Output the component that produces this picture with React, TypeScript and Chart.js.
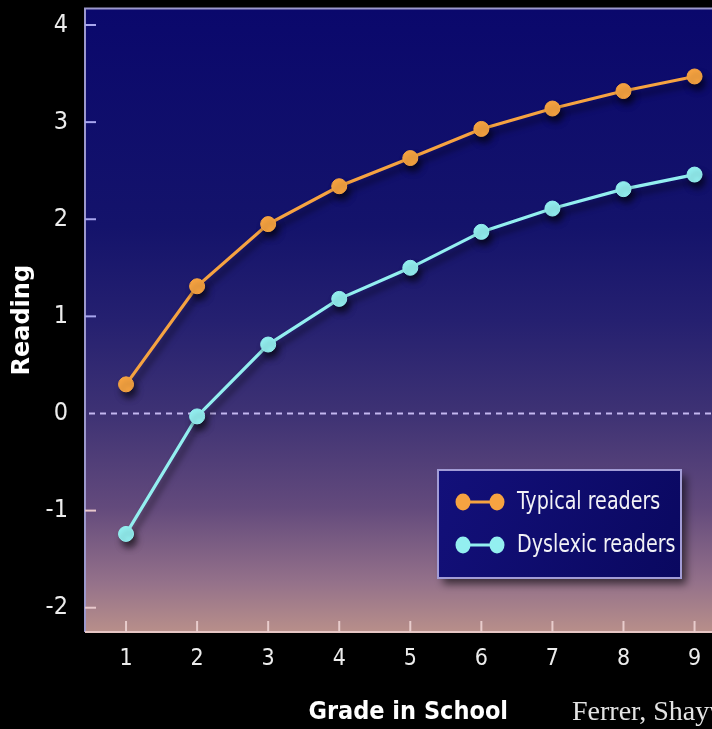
import React, { useEffect, useRef } from "react";
import { Chart, registerables } from "chart.js";

Chart.register(...registerables);

const grades = [1, 2, 3, 4, 5, 6, 7, 8, 9];
const typicalReaders = [0.3, 1.31, 1.95, 2.34, 2.63, 2.93, 3.14, 3.32, 3.47];
const dyslexicReaders = [-1.24, -0.03, 0.71, 1.18, 1.5, 1.87, 2.11, 2.31, 2.46];
const yTickValues = [-2, -1, 0, 1, 2, 3, 4];
const seriesLabels = ["Typical readers", "Dyslexic readers"];
const seriesColors = ["#f6a341", "#93eff0"];
const sourceNote = "Ferrer, Shaywitz, et al.";

const NARROW = '"Liberation Sans Narrow", "DejaVu Sans Condensed", sans-serif';

const decorPlugin = {
  id: "decor",
  beforeDraw(chart: any) {
    const { ctx, chartArea: a } = chart;
    ctx.save();
    const g = ctx.createLinearGradient(0, a.top, 0, a.bottom);
    g.addColorStop(0, "#0a086c");
    g.addColorStop(0.35, "#14136b");
    g.addColorStop(0.5, "#252070");
    g.addColorStop(0.65, "#3e3274");
    g.addColorStop(0.8, "#634a7c");
    g.addColorStop(0.92, "#94718a");
    g.addColorStop(1, "#b88f8a");
    ctx.fillStyle = g;
    ctx.fillRect(a.left, a.top, a.right - a.left, a.bottom - a.top);
    ctx.restore();
  },
  beforeDatasetsDraw(chart: any) {
    const { ctx, chartArea: a, scales } = chart;
    const x = scales.x;
    const y = scales.y;
    ctx.save();
    ctx.lineWidth = 2;
    ctx.strokeStyle = "#9c98cc";
    ctx.beginPath();
    ctx.moveTo(a.left, a.bottom);
    ctx.lineTo(a.left, a.top);
    ctx.lineTo(a.right, a.top);
    ctx.stroke();
    ctx.strokeStyle = "#e6c6c4";
    ctx.beginPath();
    ctx.moveTo(a.left, a.bottom);
    ctx.lineTo(a.right, a.bottom);
    ctx.stroke();
    for (const v of yTickValues) {
      if (v === 0) continue;
      const py = y.getPixelForValue(v);
      const t = (py - a.top) / (a.bottom - a.top);
      ctx.strokeStyle = t < 0.75 ? "#a8a6ee" : "#e8c8cc";
      ctx.beginPath();
      ctx.moveTo(a.left, py);
      ctx.lineTo(a.left + 11, py);
      ctx.stroke();
    }
    ctx.strokeStyle = "#e8cccc";
    for (const v of grades) {
      const px = x.getPixelForValue(v);
      ctx.beginPath();
      ctx.moveTo(px, a.bottom);
      ctx.lineTo(px, a.bottom - 11);
      ctx.stroke();
    }
    const zy = y.getPixelForValue(0);
    ctx.strokeStyle = "#c4b8f0";
    ctx.lineWidth = 2;
    ctx.setLineDash([6, 5]);
    ctx.beginPath();
    ctx.moveTo(a.left + 4, zy);
    ctx.lineTo(a.right, zy);
    ctx.stroke();
    ctx.restore();
    ctx.save();
    ctx.shadowColor = "rgba(0,0,0,0.55)";
    ctx.shadowBlur = 6;
    ctx.shadowOffsetX = 3;
    ctx.shadowOffsetY = 6;
  },
  afterDatasetsDraw(chart: any) {
    chart.ctx.restore();
  },
  afterDraw(chart: any) {
    const { ctx, chartArea: a } = chart;
    const bx = a.left + 353;
    const by = 470;
    const bw = 243;
    const bh = 108;
    ctx.save();
    ctx.shadowColor = "rgba(0,0,0,0.6)";
    ctx.shadowBlur = 8;
    ctx.shadowOffsetX = 5;
    ctx.shadowOffsetY = 6;
    const lg = ctx.createLinearGradient(bx, by, bx + bw, by + bh);
    lg.addColorStop(0, "#13107a");
    lg.addColorStop(1, "#0a0860");
    ctx.fillStyle = lg;
    ctx.fillRect(bx, by, bw, bh);
    ctx.restore();
    ctx.save();
    ctx.strokeStyle = "#a29cd6";
    ctx.lineWidth = 2;
    ctx.strokeRect(bx, by, bw, bh);
    chart.data.datasets.forEach((ds: any, i: number) => {
      const cy = by + 32 + i * 43;
      const x1 = bx + 25;
      const x2 = bx + 59;
      ctx.strokeStyle = ds.borderColor;
      ctx.fillStyle = ds.backgroundColor;
      ctx.lineWidth = 3;
      ctx.beginPath();
      ctx.moveTo(x1, cy);
      ctx.lineTo(x2, cy);
      ctx.stroke();
      for (const px of [x1, x2]) {
        ctx.beginPath();
        ctx.ellipse(px, cy, 7.5, 8.5, 0, 0, Math.PI * 2);
        ctx.fill();
      }
      ctx.save();
      ctx.translate(bx + 79, cy);
      ctx.scale(0.85, 1);
      ctx.fillStyle = "#f2f2f6";
      ctx.font = `25px ${NARROW}`;
      ctx.textAlign = "left";
      ctx.textBaseline = "middle";
      ctx.fillText(ds.label, 0, 0);
      ctx.restore();
    });
    ctx.fillStyle = "#e4e4e4";
    ctx.font = '28px "Liberation Serif", serif';
    ctx.textAlign = "left";
    ctx.textBaseline = "middle";
    ctx.fillText(sourceNote, 572, 713);
    ctx.restore();
  },
};

export default function App() {
  const ref = useRef<HTMLCanvasElement>(null);

  useEffect(() => {
    if (!ref.current) return;
    const mk = (vals: number[]) => grades.map((g, i) => ({ x: g, y: vals[i] }));
    const chart = new Chart(ref.current, {
      type: "line",
      data: {
        datasets: [typicalReaders, dyslexicReaders].map((vals, i) => ({
          label: seriesLabels[i],
          data: mk(vals),
          borderColor: seriesColors[i],
          backgroundColor: seriesColors[i],
          pointBackgroundColor: seriesColors[i],
          pointBorderColor: seriesColors[i],
          pointRadius: 7.5,
          pointBorderWidth: 1,
          borderWidth: 3.2,
          tension: 0,
        })),
      },
      plugins: [decorPlugin],
      options: {
        responsive: false,
        animation: false,
        devicePixelRatio: 1,
        layout: { padding: { top: 7, right: 0, left: 0, bottom: 0 } },
        plugins: { legend: { display: false }, tooltip: { enabled: false } },
        scales: {
          x: {
            type: "linear",
            min: 0.4225,
            max: 9.52,
            afterBuildTicks: (s: any) => {
              s.ticks = grades.map((v) => ({ value: v }));
            },
            afterFit: (s: any) => {
              s.height = 97;
              s.paddingLeft = 0;
              s.paddingRight = 0;
            },
            grid: { display: false, drawTicks: false, tickLength: 0 },
            border: { display: false },
            ticks: {
              color: "#ececec",
              padding: 13,
              font: { family: NARROW, size: 23 },
              autoSkip: false,
              maxRotation: 0,
              callback: (v: any) => String(v),
            },
            title: {
              display: true,
              text: "Grade in School",
              color: "#ffffff",
              font: { family: NARROW, size: 25, weight: "bold" },
              padding: { top: 0, bottom: 2 },
            },
          },
          y: {
            type: "linear",
            min: -2.25,
            max: 4.17,
            afterBuildTicks: (s: any) => {
              s.ticks = yTickValues.map((v) => ({ value: v }));
            },
            afterFit: (s: any) => {
              s.width = 85;
              s.paddingTop = 0;
              s.paddingBottom = 0;
            },
            grid: { display: false, drawTicks: false, tickLength: 0 },
            border: { display: false },
            ticks: {
              color: "#ececec",
              padding: 17,
              font: { family: NARROW, size: 25 },
              callback: (v: any) => String(v),
            },
            title: {
              display: true,
              text: "Reading",
              color: "#ffffff",
              font: { family: '"DejaVu Sans", sans-serif', size: 24, weight: "bold" },
              padding: { top: 8, bottom: 0 },
            },
          },
        },
      },
    });
    return () => chart.destroy();
  }, []);

  return (
    <div
      style={{
        position: "fixed",
        left: 0,
        top: 0,
        width: 712,
        height: 729,
        overflow: "hidden",
        background: "#000",
      }}
    >
      <canvas ref={ref} width={740} height={729} style={{ display: "block", width: 740, height: 729 }} />
    </div>
  );
}
